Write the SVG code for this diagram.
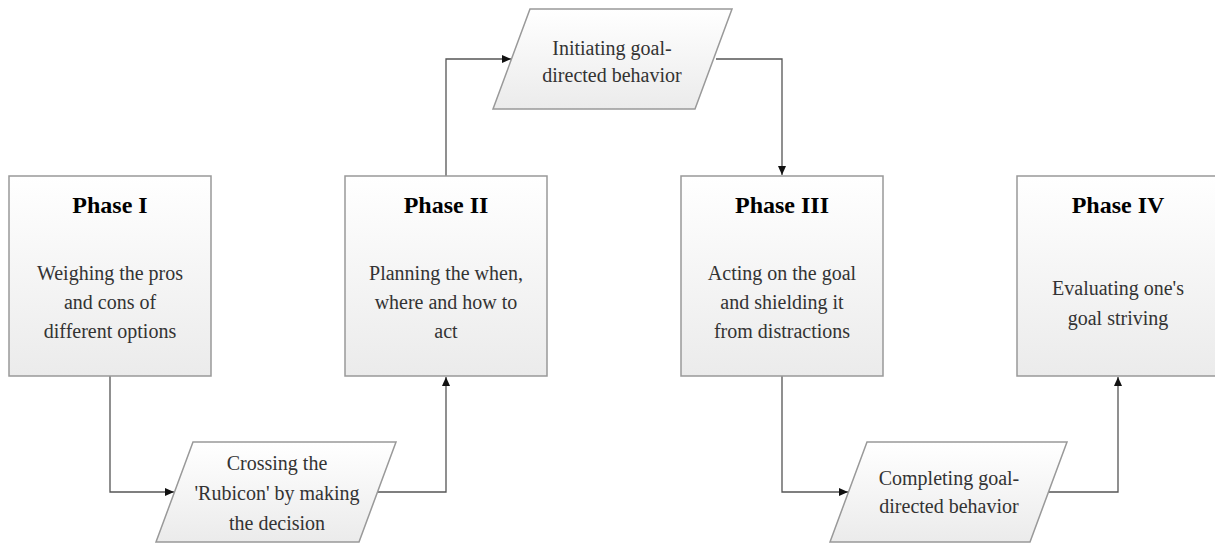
<svg xmlns="http://www.w3.org/2000/svg" width="1215" height="544" viewBox="0 0 1215 544">
<style>
.box{stroke:#999;stroke-width:1.5}
text{font-family:'Liberation Serif','Times New Roman',Times,'DejaVu Serif','Noto Serif',serif;text-anchor:middle}
.title{font-size:24px;font-weight:bold;fill:#000}
.body{font-size:20px;fill:#333}
.conn{fill:none;stroke:#555;stroke-width:1.3}
</style>
<defs>
<linearGradient id="g" x1="0" y1="0" x2="0" y2="1">
<stop offset="0" stop-color="#ffffff"/>
<stop offset="1" stop-color="#ebebeb"/>
</linearGradient>
<marker id="arr" markerWidth="10" markerHeight="8" refX="9" refY="4" orient="auto" markerUnits="userSpaceOnUse">
<path d="M0,0 L9,4 L0,8 Z" fill="#111"/>
</marker>
</defs>
<g id="connectors">
<path class="conn" d="M110,376 V492 H174" marker-end="url(#arr)"/>
<path class="conn" d="M378,492 H446 V377" marker-end="url(#arr)"/>
<path class="conn" d="M446,176 V59 H511" marker-end="url(#arr)"/>
<path class="conn" d="M716,59 H782 V175" marker-end="url(#arr)"/>
<path class="conn" d="M782,376 V492 H848" marker-end="url(#arr)"/>
<path class="conn" d="M1049,492 H1118 V377" marker-end="url(#arr)"/>
</g>
<g id="phase1">
<rect class="box" x="9" y="176" width="202" height="200" fill="url(#g)"/>
<text class="title" x="110" y="213" font-family="Liberation Serif, serif">Phase I</text>
<text class="body" x="110" y="280" font-family="Liberation Serif, serif">Weighing the pros</text>
<text class="body" x="110" y="309" font-family="Liberation Serif, serif">and cons of</text>
<text class="body" x="110" y="338" font-family="Liberation Serif, serif">different options</text>
</g>
<g id="phase2">
<rect class="box" x="345" y="176" width="202" height="200" fill="url(#g)"/>
<text class="title" x="446" y="213">Phase II</text>
<text class="body" x="446" y="280">Planning the when,</text>
<text class="body" x="446" y="309">where and how to</text>
<text class="body" x="446" y="338">act</text>
</g>
<g id="phase3">
<rect class="box" x="681" y="176" width="202" height="200" fill="url(#g)"/>
<text class="title" x="782" y="213">Phase III</text>
<text class="body" x="782" y="280">Acting on the goal</text>
<text class="body" x="782" y="309">and shielding it</text>
<text class="body" x="782" y="338">from distractions</text>
</g>
<g id="phase4">
<rect class="box" x="1017" y="176" width="202" height="200" fill="url(#g)"/>
<text class="title" x="1118" y="213">Phase IV</text>
<text class="body" x="1118" y="295">Evaluating one's</text>
<text class="body" x="1118" y="325">goal striving</text>
</g>
<g id="initiating">
<polygon class="box" points="530,9 732,9 695,109 493,109" fill="url(#g)"/>
<text class="body" x="612" y="55">Initiating goal-</text>
<text class="body" x="612" y="82">directed behavior</text>
</g>
<g id="crossing">
<polygon class="box" points="193,442 396,442 359,542 156,542" fill="url(#g)"/>
<text class="body" x="277" y="470">Crossing the</text>
<text class="body" x="277" y="500">'Rubicon' by making</text>
<text class="body" x="277" y="530">the decision</text>
</g>
<g id="completing">
<polygon class="box" points="867,442 1067,442 1030,542 830,542" fill="url(#g)"/>
<text class="body" x="949" y="485">Completing goal-</text>
<text class="body" x="949" y="513">directed behavior</text>
</g>
</svg>
